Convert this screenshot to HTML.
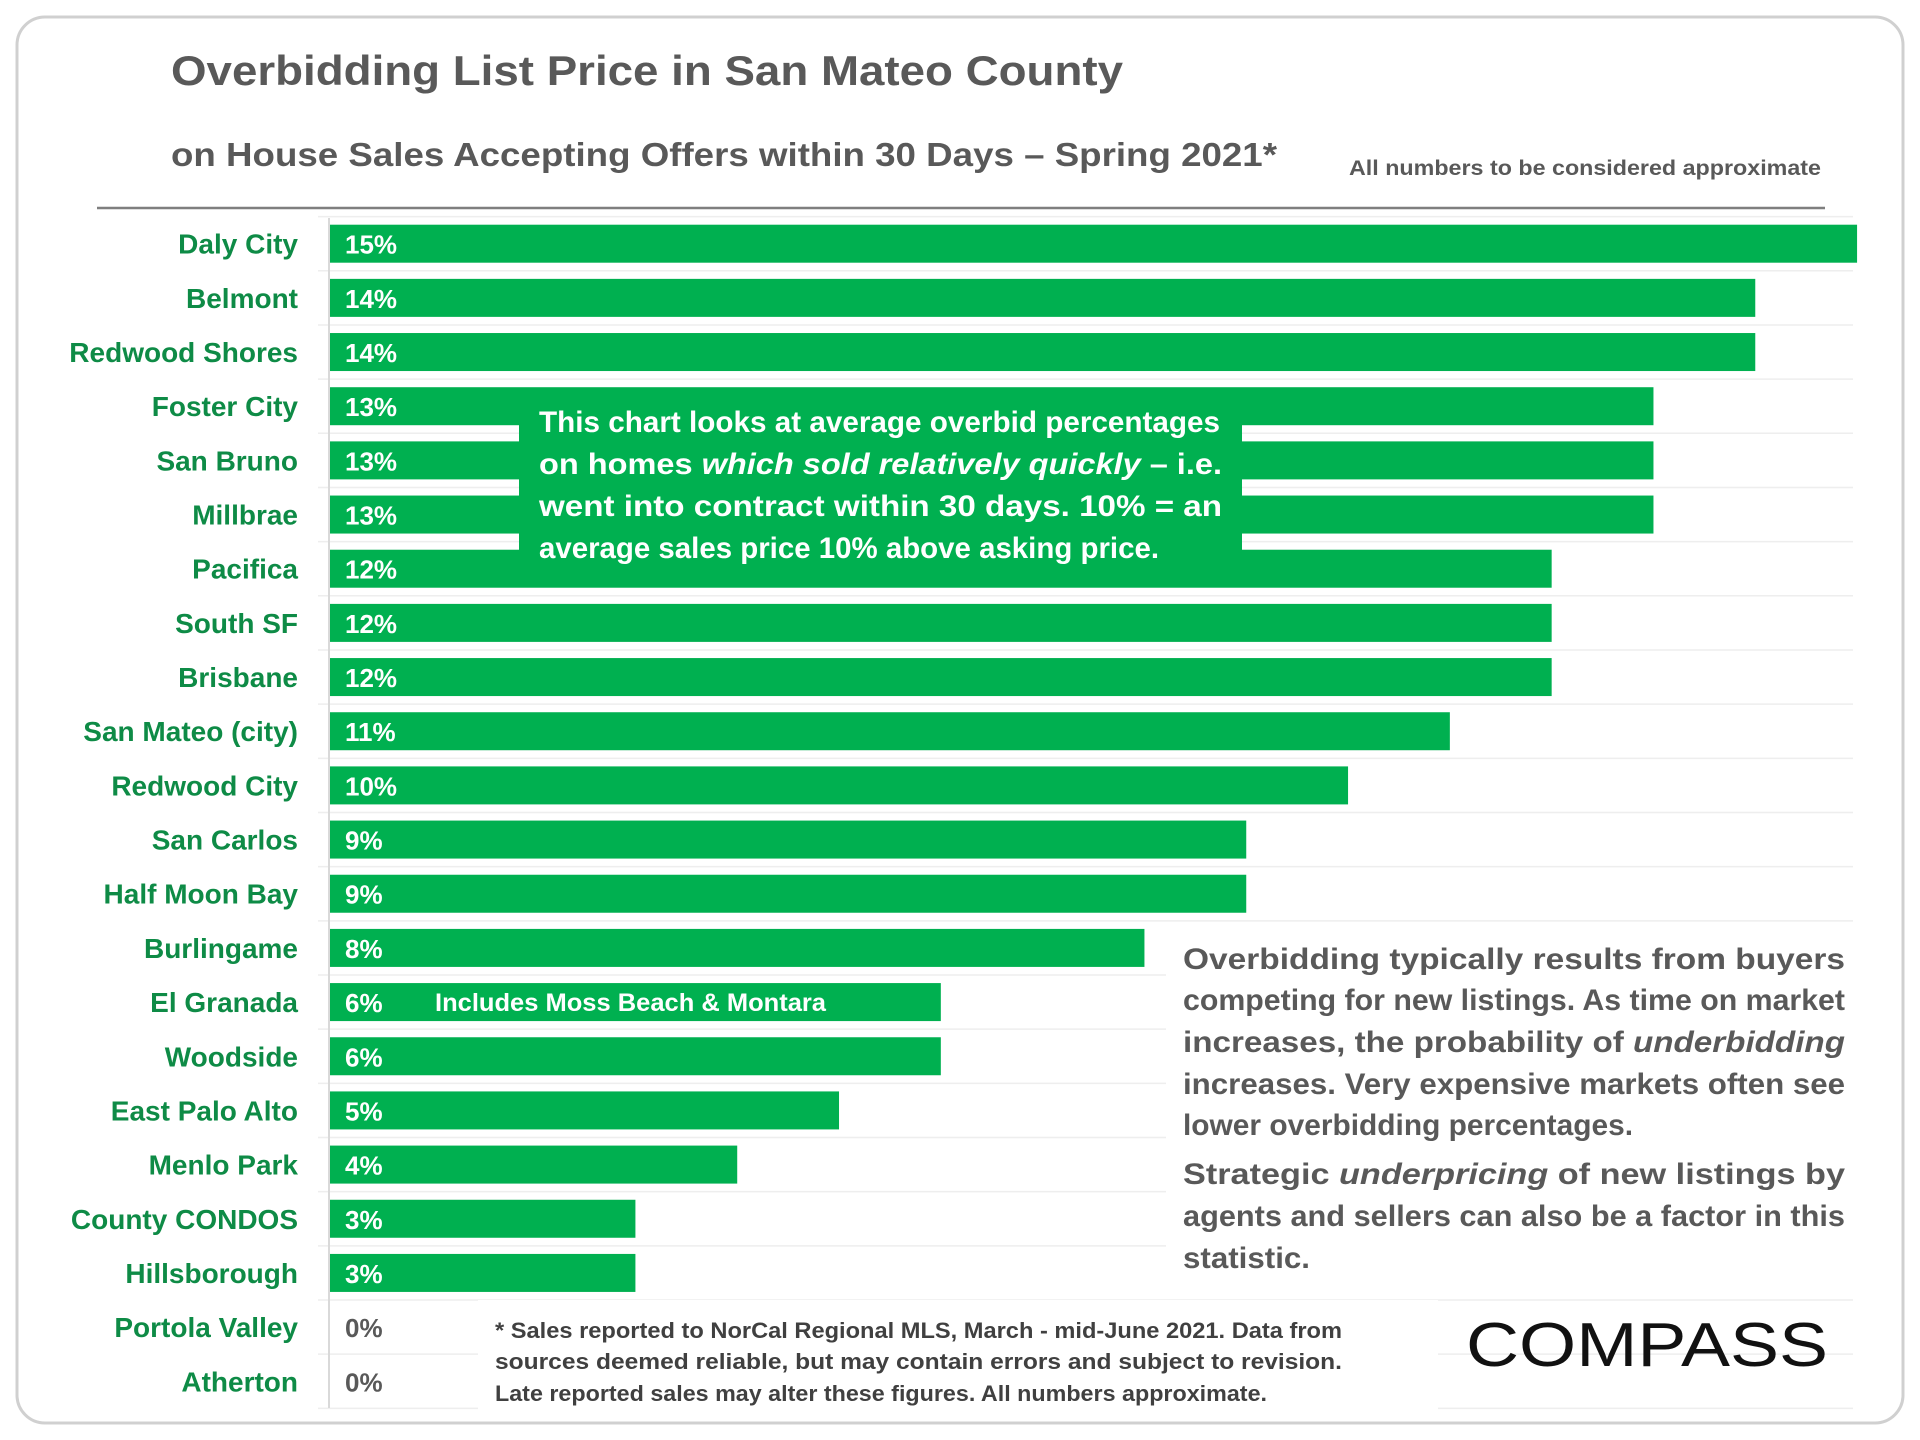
<!DOCTYPE html>
<html><head><meta charset="utf-8"><style>
html,body{margin:0;padding:0;background:#fff;}
svg{display:block;font-family:"Liberation Sans",sans-serif;}
</style></head><body>
<svg id="chart" width="1920" height="1440" viewBox="0 0 1920 1440">
<rect x="17" y="17" width="1886" height="1406" rx="28" fill="#fff" stroke="#d0d0d0" stroke-width="3"/>
<text x="171" y="85" font-size="42" font-weight="bold" fill="#595959" textLength="952" lengthAdjust="spacingAndGlyphs">Overbidding List Price in San Mateo County</text>
<text x="171" y="166" font-size="33" font-weight="bold" fill="#595959" textLength="1106" lengthAdjust="spacingAndGlyphs">on House Sales Accepting Offers within 30 Days – Spring 2021*</text>
<text x="1349" y="175" font-size="21" font-weight="bold" fill="#595959" textLength="472" lengthAdjust="spacingAndGlyphs">All numbers to be considered approximate</text>
<line x1="97" y1="208" x2="1825" y2="208" stroke="#7f7f7f" stroke-width="2.5"/>
<g id="grid"></g>
<line x1="329" y1="218" x2="329" y2="1408" stroke="#d9d9d9" stroke-width="2"/>
<g id="bars"></g>
<g id="labels"></g>
<g id="values"></g>
</svg>
<script>
const categories = ["Daly City","Belmont","Redwood Shores","Foster City","San Bruno","Millbrae","Pacifica","South SF","Brisbane","San Mateo (city)","Redwood City","San Carlos","Half Moon Bay","Burlingame","El Granada","Woodside","East Palo Alto","Menlo Park","County CONDOS","Hillsborough","Portola Valley","Atherton"];
const values = [15,14,14,13,13,13,12,12,12,11,10,9,9,8,6,6,5,4,3,3,0,0];
const valueLabels = ["15%","14%","14%","13%","13%","13%","12%","12%","12%","11%","10%","9%","9%","8%","6%","6%","5%","4%","3%","3%","0%","0%"];
const xDomain = [0, 14.96];

const NS = "http://www.w3.org/2000/svg";
const X0 = 330, X1 = 1853, ROW0 = 243.7, STEP = 54.17, BH = 38;
function xScale(v){ return X0 + (v - xDomain[0]) / (xDomain[1] - xDomain[0]) * (X1 - X0); }
function yCenter(i){ return ROW0 + i * STEP; }
function mk(tag, attrs, parent){ const e = document.createElementNS(NS, tag); for (const k in attrs) e.setAttribute(k, attrs[k]); parent.appendChild(e); return e; }

const grid = document.getElementById('grid'), bars = document.getElementById('bars'), labels = document.getElementById('labels'), vals = document.getElementById('values');
for (let i = 0; i <= categories.length; i++) {
  const y = yCenter(i) - STEP / 2;
  const g = mk('line', {x1: 318, x2: X1, y1: y, y2: y, stroke: '#eeeeee', 'stroke-width': 1.5}, grid);
  
  
}
categories.forEach((c, i) => {
  const yc = yCenter(i);
  if (values[i] > 0) {
    const r = mk('rect', {x: X0, y: yc - BH / 2, width: xScale(values[i]) - X0, height: BH, fill: '#00B050'}, bars);
    
    
  }
  const t = mk('text', {x: 298, y: yc + 10, 'text-anchor': 'end', 'font-size': 28, 'font-weight': 'bold', fill: '#0E8B46'}, labels);
  t.textContent = c;
  
  
  const v = mk('text', {x: 345, y: yc + 10, 'font-size': 26, 'font-weight': 'bold', fill: values[i] > 0 ? '#ffffff' : '#595959'}, vals);
  v.textContent = valueLabels[i];
  
  
});

const svg = document.getElementById('chart');
function addLine(parts, x, y, len, size, fill, name) {
  const t = mk('text', {x: x, y: y, 'font-size': size, 'font-weight': 'bold', fill: fill, textLength: len, lengthAdjust: 'spacingAndGlyphs'}, svg);
  parts.forEach(p => {
    const s = mk('tspan', p[1] ? {'font-style': 'italic'} : {}, t);
    s.textContent = p[0];
  });
  
  
}

addLine([['Includes Moss Beach & Montara']], 435, 1011, 391, 25, '#fff', 'el-granada-note');

const gb = mk('rect', {x: 519, y: 392, width: 723, height: 160, fill: '#00B050'}, svg);


addLine([['This chart looks at average overbid percentages']], 539, 432, 681, 30, '#fff', 'explanation-text');
addLine([['on homes '],['which sold relatively quickly',1],[' – i.e.']], 539, 474, 683, 30, '#fff', 'explanation-text');
addLine([['went into contract within 30 days. 10% = an']], 539, 516, 683, 30, '#fff', 'explanation-text');
addLine([['average sales price 10% above asking price.']], 539, 558, 620, 30, '#fff', 'explanation-text');

const wb = mk('rect', {x: 1166, y: 931, width: 690, height: 356, fill: '#fff'}, svg);


const C = '#595959';
addLine([['Overbidding typically results from buyers']], 1183, 969, 662, 30, C, 'commentary-text');
addLine([['competing for new listings. As time on market']], 1183, 1010, 662, 30, C, 'commentary-text');
addLine([['increases, the probability of '],['underbidding',1]], 1183, 1052, 662, 30, C, 'commentary-text');
addLine([['increases. Very expensive markets often see']], 1183, 1094, 662, 30, C, 'commentary-text');
addLine([['lower overbidding percentages.']], 1183, 1135, 450, 30, C, 'commentary-text');
addLine([['Strategic '],['underpricing',1],[' of new listings by']], 1183, 1184, 662, 30, C, 'commentary-text');
addLine([['agents and sellers can also be a factor in this']], 1183, 1226, 662, 30, C, 'commentary-text');
addLine([['statistic.']], 1183, 1268, 127, 30, C, 'commentary-text');

const fb = mk('rect', {x: 478, y: 1300, width: 960, height: 110, fill: '#fff'}, svg);


addLine([['* Sales reported to NorCal Regional MLS, March - mid-June 2021. Data from']], 495, 1338, 847, 22, '#404040', 'footnote-text');
addLine([['sources deemed reliable, but may contain errors and subject to revision.']], 495, 1369, 847, 22, '#404040', 'footnote-text');
addLine([['Late reported sales may alter these figures. All numbers approximate.']], 495, 1401, 772, 22, '#404040', 'footnote-text');

const logo = mk('text', {x: 1466, y: 1366, 'font-size': 62, fill: '#111', textLength: 362, lengthAdjust: 'spacingAndGlyphs'}, svg);
logo.textContent = 'COMPASS';


</script>
</body></html>
